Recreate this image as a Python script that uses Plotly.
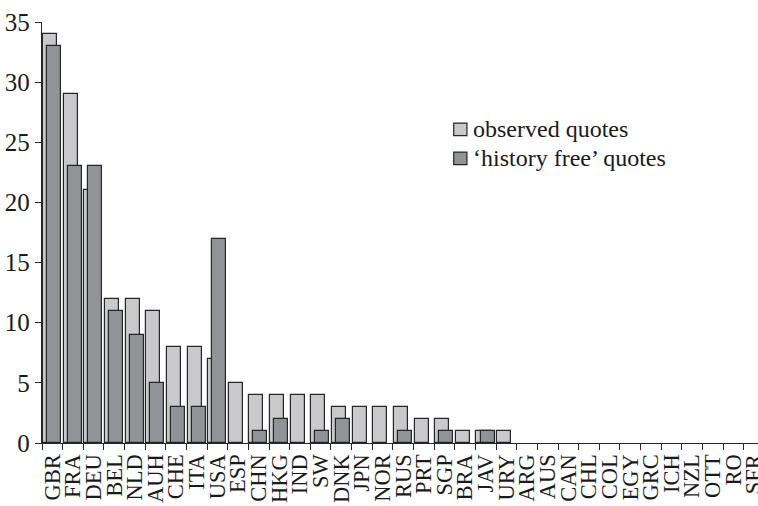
import plotly.graph_objects as go

countries = ["GBR", "FRA", "DEU", "BEL", "NLD", "AUH", "CHE", "ITA", "USA", "ESP",
             "CHN", "HKG", "IND", "SW", "DNK", "JPN", "NOR", "RUS", "PRT", "SGP",
             "BRA", "JAV", "URY", "ARG", "AUS", "CAN", "CHL", "COL", "EGY", "GRC",
             "ICH", "NZL", "OTT", "RO", "SFR"]
observed = [34, 29, 21, 12, 12, 11, 8, 8, 7, 5,
            4, 4, 4, 4, 3, 3, 3, 3, 2, 2,
            1, 1, 1, 0, 0, 0, 0, 0, 0, 0,
            0, 0, 0, 0, 0]
history_free = [33, 23, 23, 11, 9, 5, 3, 3, 17, 0,
                1, 2, 0, 1, 2, 0, 0, 1, 0, 1,
                0, 1, 0, 0, 0, 0, 0, 0, 0, 0,
                0, 0, 0, 0, 0]
series_names = ["observed quotes", "\u2018history free\u2019 quotes"]
y_ticks = [0, 5, 10, 15, 20, 25, 30, 35]

LIGHT = "#c9c9cc"
DARK = "#929397"
EDGE = "#262626"
FONT = "Liberation Serif, Times New Roman, serif"


def outline(values):
    # empty bars get no outline so nothing is stroked along the baseline
    return [1.2 if v > 0 else 0 for v in values]


idx = list(range(len(countries)))
fig = go.Figure()
# lighter bar sits at the left of each slot, darker one overlaps it to the right
fig.add_trace(go.Bar(x=[i + 0.39 for i in idx], y=observed, width=0.68,
                     marker=dict(color=LIGHT, line=dict(color=EDGE, width=outline(observed))),
                     name=series_names[0], showlegend=False))
fig.add_trace(go.Bar(x=[i + 0.585 for i in idx], y=history_free, width=0.68,
                     marker=dict(color=DARK, line=dict(color=EDGE, width=outline(history_free))),
                     name=series_names[1], showlegend=False))

# legend drawn as small boxes with text
leg_x, leg_y, dy = 0.575, 0.745, 0.069
for k, (nm, col) in enumerate(zip(series_names, [LIGHT, DARK])):
    y0 = leg_y - k * dy
    fig.add_shape(type="rect", xref="paper", yref="paper",
                  x0=leg_x, x1=leg_x + 0.0185, y0=y0 - 0.015, y1=y0 + 0.015,
                  fillcolor=col, line=dict(color=EDGE, width=1.2))
    fig.add_annotation(xref="paper", yref="paper", x=leg_x + 0.024, y=y0,
                       xanchor="left", yanchor="middle", text=nm, showarrow=False,
                       font=dict(family=FONT, size=24, color="#1a1a1a"))

fig.update_layout(
    width=758, height=506,
    margin=dict(l=42, r=0, t=22, b=63),
    plot_bgcolor="white", paper_bgcolor="white",
    barmode="overlay", bargap=0,
    font=dict(family=FONT, size=24, color="#1a1a1a"),
)
fig.update_xaxes(
    range=[0, 34.69], tickmode="array",
    tickvals=[i + 0.5 for i in idx], ticktext=countries,
    tickangle=-90, ticks="", ticklabelstandoff=1, ticklabeloverflow="allow",
    minor=dict(tickmode="array", tickvals=idx, ticks="outside", ticklen=6,
               tickwidth=1.2, tickcolor=EDGE),
    showline=True, linecolor=EDGE, linewidth=1.3,
    showgrid=False, zeroline=False, automargin=False,
    tickfont=dict(family=FONT, size=22.5),
)
fig.update_yaxes(
    range=[0, 35], tickmode="array", tickvals=y_ticks,
    ticks="outside", ticklen=6, tickwidth=1.2, tickcolor=EDGE,
    showline=True, linecolor=EDGE, linewidth=1.3,
    showgrid=False, zeroline=False, automargin=False,
    tickfont=dict(family=FONT, size=25),
)

fig.write_html("out.html")
